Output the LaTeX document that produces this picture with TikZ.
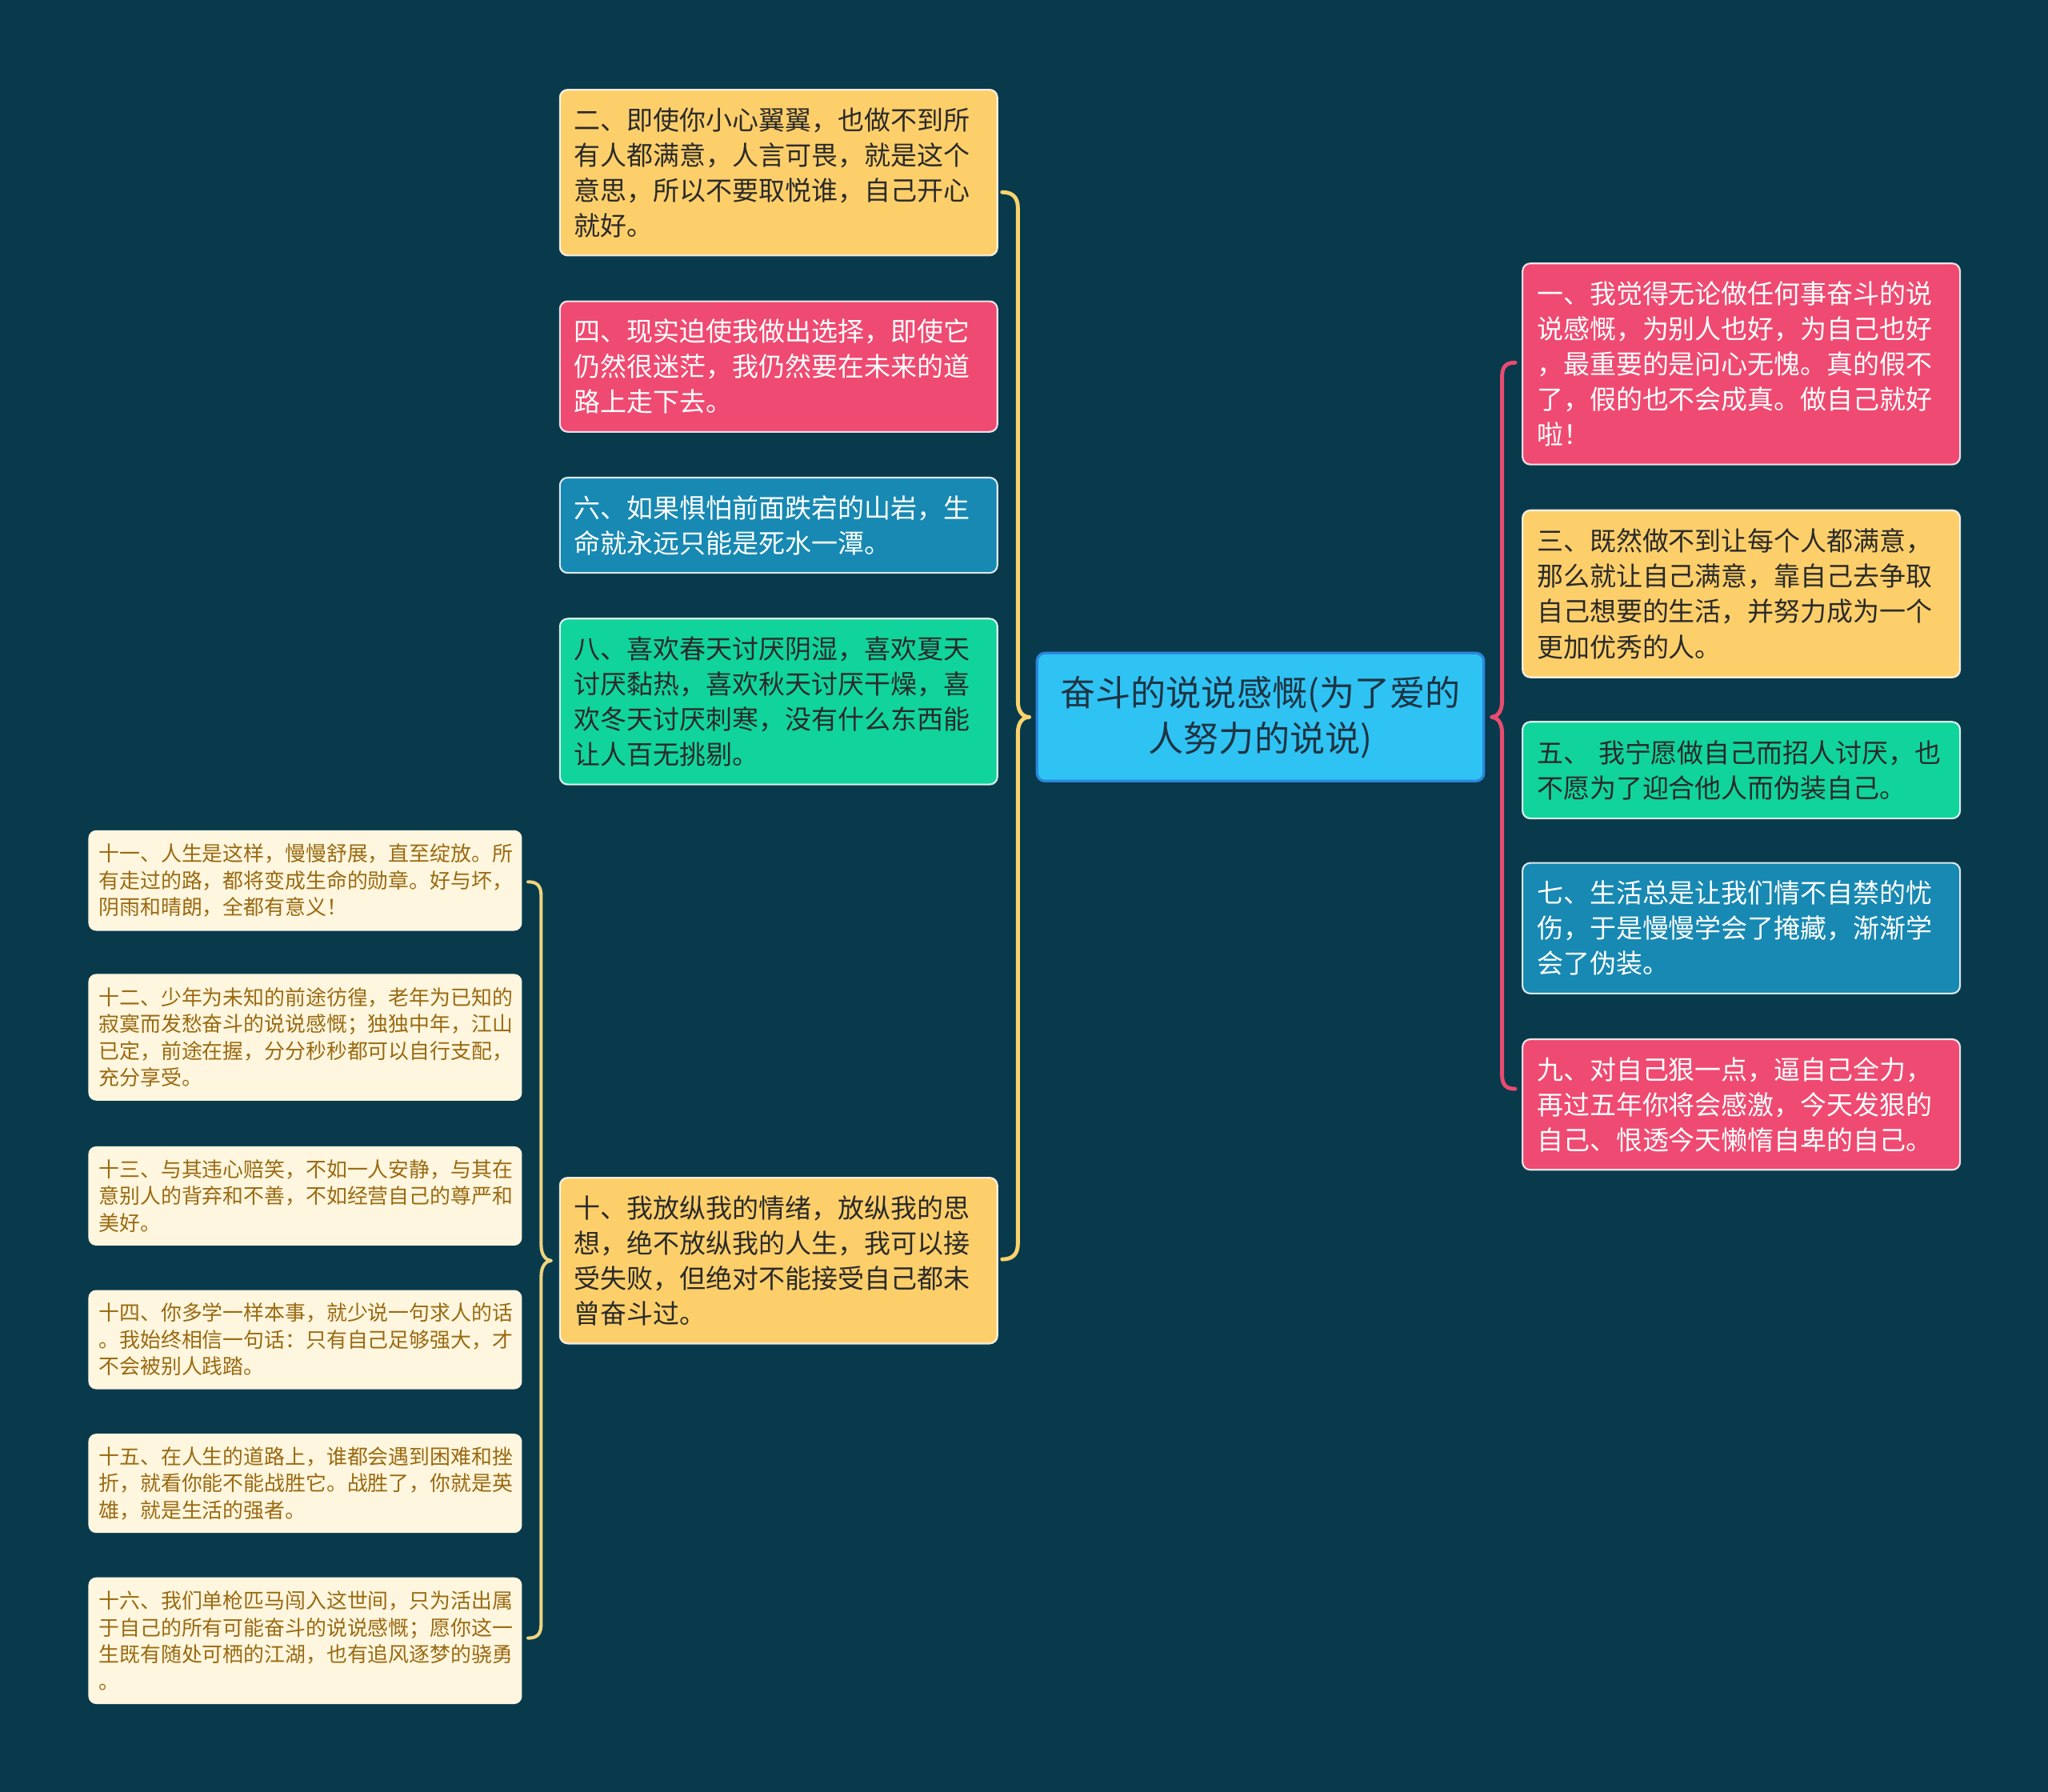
\documentclass[tikz,border=0pt]{standalone}
\usepackage{fontspec}
\setmainfont{Noto Sans CJK SC}
\usetikzlibrary{calc}
\definecolor{bg}{HTML}{083A4C}
\definecolor{yel}{HTML}{FDCF6A}
\definecolor{pnk}{HTML}{EF4A71}
\definecolor{blu}{HTML}{1789B3}
\definecolor{grn}{HTML}{10D49B}
\definecolor{cyn}{HTML}{2FC3F4}
\definecolor{cynb}{HTML}{2C86DD}
\definecolor{crm}{HTML}{FEF6DE}
\definecolor{brn}{HTML}{9A6A12}
\definecolor{dk}{HTML}{2A2A2A}
\definecolor{ctext}{HTML}{1E3442}
\definecolor{ybr}{HTML}{FCD36C}
\definecolor{pbr}{HTML}{E94B70}
\definecolor{sbr}{HTML}{F0D37F}
\tikzset{
  box/.style={rounded corners=6pt, anchor=north west, align=left, inner ysep=0pt,
    draw=white, draw opacity=0.85, line width=1.3pt},
  midbox/.style={box, inner xsep=11pt, text width=313pt, font=\fontsize{20.2}{27}\selectfont},
  ybox/.style={midbox, fill=yel, text=dk},
  pbox/.style={midbox, fill=pnk, text=white},
  bbox/.style={midbox, fill=blu, text=white},
  gbox/.style={midbox, fill=grn, text=dk},
  sbox/.style={box, draw=none, fill=crm, text=brn, inner xsep=8pt, text width=316pt,
    font=\fontsize{15.85}{20.5}\selectfont},
  bracestyle/.style={line width=3pt, line cap=round, line join=round},
}
\begin{document}
\begin{tikzpicture}[x=1pt,y=-1pt]
\fill[bg] (0,0) rectangle (1568,1372);
\useasboundingbox (0,0) rectangle (1568,1372);

% center
\node[anchor=north west, rounded corners=6pt, fill=cyn, draw=cynb, line width=2pt,
  minimum width=342pt, minimum height=98pt, align=center, inner sep=0pt, text=ctext,
  font=\fontsize{27}{35}\selectfont] (c) at (793,499) {奋斗的说说感慨(为了爱的\\人努力的说说)};

% left column
\node[ybox, minimum height=127pt] (n2) at (428,68) {二、即使你小心翼翼，也做不到所\\有人都满意，人言可畏，就是这个\\意思，所以不要取悦谁，自己开心\\就好。};
\node[pbox, minimum height=100pt] (n4) at (428,230) {四、现实迫使我做出选择，即使它\\仍然很迷茫，我仍然要在未来的道\\路上走下去。};
\node[bbox, minimum height=73pt] (n6) at (428,365) {六、如果惧怕前面跌宕的山岩，生\\命就永远只能是死水一潭。};
\node[gbox, minimum height=127pt] (n8) at (428,473) {八、喜欢春天讨厌阴湿，喜欢夏天\\讨厌黏热，喜欢秋天讨厌干燥，喜\\欢冬天讨厌刺寒，没有什么东西能\\让人百无挑剔。};
\node[ybox, minimum height=127pt] (n10) at (428,901) {十、我放纵我的情绪，放纵我的思\\想，绝不放纵我的人生，我可以接\\受失败，但绝对不能接受自己都未\\曾奋斗过。};

% right column
\node[pbox, minimum height=154pt] (n1) at (1165,201) {一、我觉得无论做任何事奋斗的说\\说感慨，为别人也好，为自己也好\\，最重要的是问心无愧。真的假不\\了，假的也不会成真。做自己就好\\啦！};
\node[ybox, minimum height=128pt] (n3) at (1165,390) {三、既然做不到让每个人都满意，\\那么就让自己满意，靠自己去争取\\自己想要的生活，并努力成为一个\\更加优秀的人。};
\node[gbox, minimum height=74pt] (n5) at (1165,552) {五、 我宁愿做自己而招人讨厌，也\\不愿为了迎合他人而伪装自己。};
\node[bbox, minimum height=100pt] (n7) at (1165,660) {七、生活总是让我们情不自禁的忧\\伤，于是慢慢学会了掩藏，渐渐学\\会了伪装。};
\node[pbox, minimum height=100pt] (n9) at (1165,795) {九、对自己狠一点，逼自己全力，\\再过五年你将会感激，今天发狠的\\自己、恨透今天懒惰自卑的自己。};

% small column
\node[sbox, minimum height=77pt] (n11) at (67,635) {十一、人生是这样，慢慢舒展，直至绽放。所\\有走过的路，都将变成生命的勋章。好与坏，\\阴雨和晴朗，全都有意义！};
\node[sbox, minimum height=97pt] (n12) at (67,745) {十二、少年为未知的前途彷徨，老年为已知的\\寂寞而发愁奋斗的说说感慨；独独中年，江山\\已定，前途在握，分分秒秒都可以自行支配，\\充分享受。};
\node[sbox, minimum height=76pt] (n13) at (67,877) {十三、与其违心赔笑，不如一人安静，与其在\\意别人的背弃和不善，不如经营自己的尊严和\\美好。};
\node[sbox, minimum height=76pt] (n14) at (67,987) {十四、你多学一样本事，就少说一句求人的话\\。我始终相信一句话：只有自己足够强大，才\\不会被别人践踏。};
\node[sbox, minimum height=76pt] (n15) at (67,1097) {十五、在人生的道路上，谁都会遇到困难和挫\\折，就看你能不能战胜它。战胜了，你就是英\\雄，就是生活的强者。};
\node[sbox, minimum height=97pt] (n16) at (67,1207) {十六、我们单枪匹马闯入这世间，只为活出属\\于自己的所有可能奋斗的说说感慨；愿你这一\\生既有随处可栖的江湖，也有追风逐梦的骁勇\\。};

% left main brace  (center -> n2 ... n10)
\draw[bracestyle, draw=ybr]
  let \p1=($(n2.east)+(3,15)$), \p2=($(c.west)+(-5,0)$), \p3=($(n10.east)+(3,-1)$), \p4=($(\p1)+(12,0)$) in
  (\p1) .. controls (\x1+8pt,\y1) and (\x4,\y1-4pt) .. (\x4,\y1-12pt)
  -- (\x4,\y2+12pt) .. controls (\x4,\y2+4pt) and (\x4+4pt,\y2) .. (\p2)
  .. controls (\x4+4pt,\y2) and (\x4,\y2-4pt) .. (\x4,\y2-12pt)
  -- (\x4,\y3+12pt) .. controls (\x4,\y3+4pt) and (\x3+8pt,\y3) .. (\p3);

% right main brace (center -> n1 ... n9)
\draw[bracestyle, draw=pbr]
  let \p1=($(n1.west)+(-5,-1)$), \p2=($(c.east)+(5,0)$), \p3=($(n9.west)+(-5,-12)$), \p4=($(\p1)+(-10,0)$) in
  (\p1) .. controls (\x1-7pt,\y1) and (\x4,\y1-3pt) .. (\x4,\y1-11pt)
  -- (\x4,\y2+12pt) .. controls (\x4,\y2+4pt) and (\x4-4pt,\y2) .. (\p2)
  .. controls (\x4-4pt,\y2) and (\x4,\y2-4pt) .. (\x4,\y2-12pt)
  -- (\x4,\y3+11pt) .. controls (\x4,\y3+3pt) and (\x3-7pt,\y3) .. (\p3);

% small brace (n10 -> n11 ... n16)
\draw[bracestyle, line width=2.5pt, draw=sbr]
  let \p1=($(n11.east)+(4,1)$), \p2=($(n10.west)+(-6,0)$), \p3=($(n16.east)+(4,-2)$), \p4=($(\p1)+(10,0)$) in
  (\p1) .. controls (\x1+7pt,\y1) and (\x4,\y1-3pt) .. (\x4,\y1-11pt)
  -- (\x4,\y2+12pt) .. controls (\x4,\y2+4pt) and (\x4+4pt,\y2) .. (\p2)
  .. controls (\x4+4pt,\y2) and (\x4,\y2-4pt) .. (\x4,\y2-12pt)
  -- (\x4,\y3+11pt) .. controls (\x4,\y3+3pt) and (\x3+7pt,\y3) .. (\p3);
\end{tikzpicture}
\end{document}
